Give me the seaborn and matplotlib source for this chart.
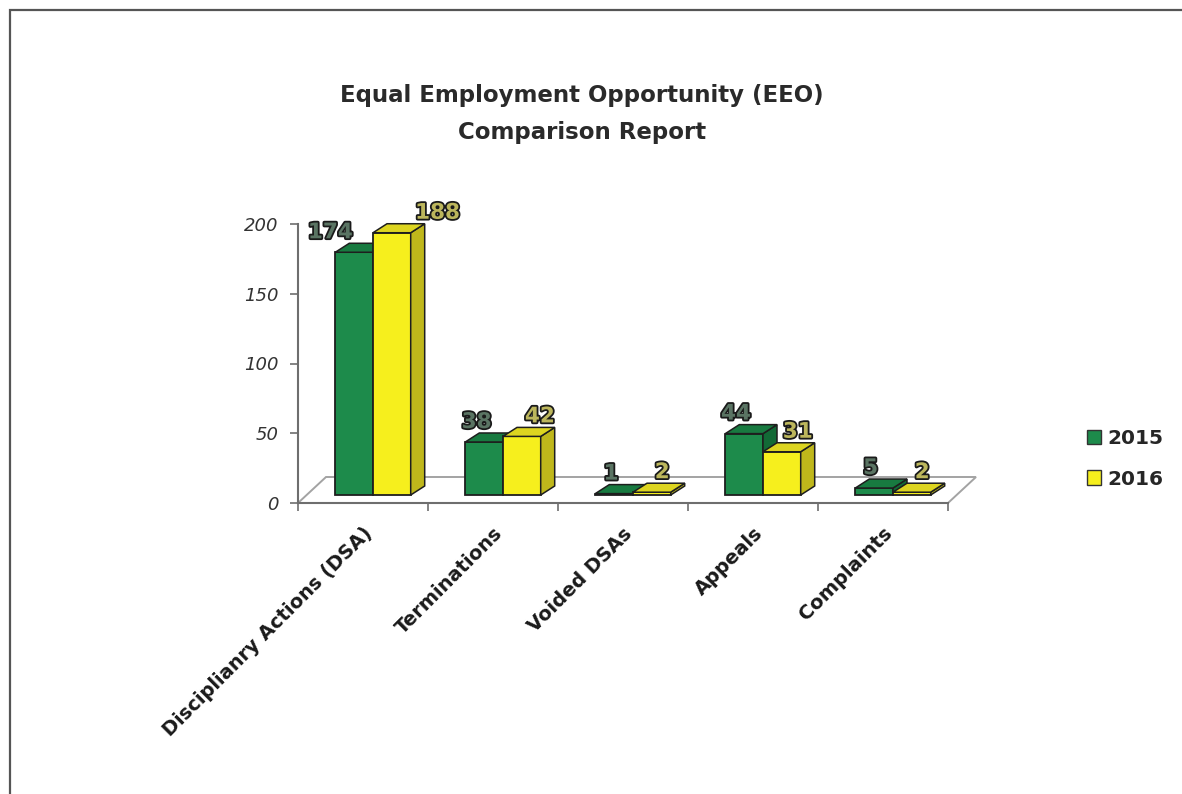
import numpy as np
import pandas as pd
import matplotlib
matplotlib.use("Agg")
import matplotlib.pyplot as plt
import matplotlib.patheffects as pe
import seaborn as sns
from matplotlib.patches import Polygon, Rectangle, Patch
from matplotlib.transforms import Affine2D, IdentityTransform

# ---- data -------------------------------------------------------------
categories = ["Disciplianry Actions (DSA)", "Terminations", "Voided DSAs",
              "Appeals", "Complaints"]
years = ["2015", "2016"]
values_2015 = [174, 38, 1, 44, 5]
values_2016 = [188, 42, 2, 31, 2]
y_ticks = [0, 50, 100, 150, 200]
title = "Equal Employment Opportunity (EEO)\nComparison Report"

# ---- styling ------------------------------------------------------------
front_colors = {"2015": "#1d8b4b", "2016": "#f6ef1d"}
side_colors = {"2015": "#126a36", "2016": "#bfb71b"}
top_colors = {"2015": "#187a40", "2016": "#ddd520"}
label_fill = {"2015": "#5a7463", "2016": "#bcb65c"}
edge = "#1e1e1e"

df = pd.DataFrame({
    "category": categories * 2,
    "year": [years[0]] * len(categories) + [years[1]] * len(categories),
    "count": values_2015 + values_2016,
})

W, H, DPI = 1182, 794, 100
sns.set_theme(style="white")
plt.rcParams["font.family"] = ["DejaVu Sans"]

fig = plt.figure(figsize=(W / DPI, H / DPI), dpi=DPI)
fig.patch.set_facecolor("white")

# plot area in pixels
px_left, px_right, px_top, px_bottom = 298, 948, 224, 503
ax = fig.add_axes([px_left / W, 1 - px_bottom / H,
                   (px_right - px_left) / W, (px_bottom - px_top) / H])
ax.set_facecolor("none")

sns.barplot(data=df, x="category", y="count", hue="year",
            order=categories, hue_order=years, palette=front_colors,
            width=0.58, saturation=1, edgecolor=edge, linewidth=1.3,
            legend=False, ax=ax)

ax.set_xlim(-0.5, len(categories) - 0.5)
ax.set_ylim(0, 200)

# ---- pseudo-3D floor and bar faces -------------------------------------
shift = Affine2D().translate(10, 8)          # bars sit mid-depth on the floor
depth = np.array([14, 9])                    # bar depth in pixels
floor_depth = np.array([28, 26])

f0 = ax.transData.transform((-0.5, 0))
f1 = ax.transData.transform((len(categories) - 0.5, 0))
floor = Polygon([f0, f1, f1 + floor_depth, f0 + floor_depth], closed=True,
                transform=IdentityTransform(), facecolor="white",
                edgecolor="#a3a3a3", linewidth=1.4, zorder=1, clip_on=False)
ax.add_artist(floor)

bar_tr = ax.transData + shift
for k, (container, year) in enumerate(zip(ax.containers, years)):
    base_z = 3 + k
    for bar in container:
        bar.set_transform(bar_tr)
        bar.set_clip_on(False)
        bar.set_zorder(base_z)
        x0 = bar.get_x()
        x1 = x0 + bar.get_width()
        h = bar.get_height()
        br = bar_tr.transform((x1, 0))
        tl = bar_tr.transform((x0, h))
        tr = bar_tr.transform((x1, h))
        side = Polygon([br, br + depth, tr + depth, tr], closed=True,
                       transform=IdentityTransform(),
                       facecolor=side_colors[year], edgecolor=edge,
                       linewidth=1.1, zorder=base_z + 0.1, clip_on=False)
        top = Polygon([tl, tr, tr + depth, tl + depth], closed=True,
                      transform=IdentityTransform(),
                      facecolor=top_colors[year], edgecolor=edge,
                      linewidth=1.1, zorder=base_z + 0.2, clip_on=False)
        ax.add_artist(side)
        ax.add_artist(top)

        # value label, set in perspective above the bar
        cx = x0 + bar.get_width() / 2
        dx = -0.12 * h - 3 if year == years[0] else 0.19 * h + 10
        ax.annotate(f"{h:.0f}", xy=(cx, h), xytext=(10 + dx, 8 + 20),
                    textcoords="offset pixels", ha="center", va="center",
                    fontsize=15.5, fontweight="bold", color=label_fill[year],
                    path_effects=[pe.withStroke(linewidth=2.6,
                                                foreground="#1a1a1a")],
                    annotation_clip=False, zorder=10)

# ---- axes ----------------------------------------------------------------
for s in ["top", "right"]:
    ax.spines[s].set_visible(False)
for s in ["left", "bottom"]:
    ax.spines[s].set_color("#6e6e6e")
    ax.spines[s].set_linewidth(1.5)
    ax.spines[s].set_zorder(2)

ax.set_yticks(y_ticks)
ax.set_yticklabels([str(t) for t in y_ticks])
ax.tick_params(axis="y", direction="out", length=6, width=1.2,
               color="#6e6e6e", labelsize=13, labelcolor="#333333", pad=8,
               left=True)
for t in ax.get_yticklabels():
    t.set_fontstyle("italic")

ax.set_xticks(range(len(categories)))
ax.set_xticklabels(categories, rotation=45, ha="right",
                   rotation_mode="anchor", fontweight="bold", fontsize=14,
                   color="#1a1a1a")
ax.set_xticks(np.arange(-0.5, len(categories)), minor=True)
ax.tick_params(axis="x", which="major", length=0, pad=15)
ax.tick_params(axis="x", which="minor", direction="out", length=6,
               width=1.2, color="#6e6e6e", bottom=True)
ax.set_xlabel("")
ax.set_ylabel("")

# ---- legend ----------------------------------------------------------------
handles = [Patch(facecolor=front_colors[y], edgecolor="#333333", linewidth=1)
           for y in years]
ax.legend(handles, years, loc="center left",
          bbox_to_anchor=(1087 / W, 1 - 459 / H),
          bbox_transform=fig.transFigure, frameon=False,
          prop={"weight": "bold", "size": 14.5}, handlelength=0.7,
          handleheight=0.7, handletextpad=0.3, labelspacing=1.05,
          borderpad=0, borderaxespad=0)

# ---- title and frame -------------------------------------------------------
fig.text(582 / W, 1 - 84 / H, title, ha="center", va="top", fontsize=16.5,
         fontweight="bold", color="#2a2a2a", linespacing=1.75)

frame = Rectangle((10 / W, -0.05), 1.2, (H - 10) / H + 0.05,
                  transform=fig.transFigure, fill=False,
                  edgecolor="#555555", linewidth=1.6)
fig.add_artist(frame)

fig.savefig("out.png", dpi=DPI)
